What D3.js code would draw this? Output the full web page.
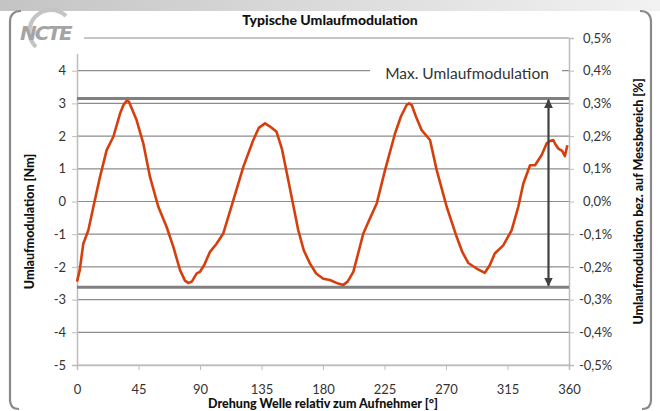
<!DOCTYPE html>
<html><head><meta charset="utf-8">
<script src="https://cdn.jsdelivr.net/npm/d3@7"></script>
<style>body{margin:0;background:#fff}svg{display:block}</style>
</head><body>
<svg id="c" width="660" height="411"></svg>
<script>
const angles = [0,2,4.6,8.3,12,16.8,21.7,26.6,31.5,34,36.3,38,40,43.6,48.5,53.4,59.5,65.6,70.5,75.4,79,81.4,84,87.6,90,93,97.3,102,107,114.4,121.7,129,133,137.6,141,146,150,154.6,161.9,166,170.5,175,180.2,185,191.2,194.9,198,202.2,209.5,214,219.3,225.4,232.7,237,241.2,243,244.9,248,252.2,258.3,263.2,270.5,277.8,282,286.3,292.4,298.4,302,305.7,311.9,318,322.9,326.6,331.5,335.1,340,343.7,346,348.5,350,352.2,355,357,358.8];
const torque = [-2.45,-2.1,-1.29,-0.88,-0.16,0.75,1.57,1.98,2.69,2.95,3.08,3.05,2.85,2.49,1.78,0.75,-0.16,-0.78,-1.39,-2.10,-2.42,-2.49,-2.45,-2.20,-2.15,-1.95,-1.54,-1.3,-0.98,0.04,1.06,1.88,2.25,2.39,2.3,2.13,1.6,0.65,-0.88,-1.5,-1.90,-2.2,-2.36,-2.4,-2.51,-2.55,-2.45,-2.15,-0.98,-0.55,-0.06,0.96,2.08,2.6,2.95,3.0,2.95,2.6,2.18,1.88,0.96,-0.16,-1.08,-1.55,-1.88,-2.05,-2.18,-1.95,-1.59,-1.34,-0.88,-0.16,0.55,1.11,1.11,1.42,1.78,1.85,1.88,1.75,1.62,1.55,1.39,1.72];
const xTicks = [0,45,90,135,180,225,270,315,360];
const yTicks = [-5,-4,-3,-2,-1,0,1,2,3,4];
const yTicksRight = [-0.5,-0.4,-0.3,-0.2,-0.1,0,0.1,0.2,0.3,0.4,0.5];
const maxLine = 3.15, minLine = -2.62, arrowAngle = 345;
const title = "Typische Umlaufmodulation";
const xTitle = "Drehung Welle relativ zum Aufnehmer [°]";
const yTitle = "Umlaufmodulation [Nm]";
const y2Title = "Umlaufmodulation bez. auf Messbereich [%]";
const annot = "Max. Umlaufmodulation";

const svg = d3.select("#c");
const F = "Lato, 'Open Sans', sans-serif";
const L = 77, R = 569, T = 38, B = 365;
const x = d3.scaleLinear().domain([0,360]).range([L,R]);
const y = d3.scaleLinear().domain([-5,5]).range([B,T]);
const y2 = d3.scaleLinear().domain([-0.5,0.5]).range([B,T]);

// top band gradient
const defs = svg.append("defs");
const g = defs.append("linearGradient").attr("id","band");
g.append("stop").attr("offset","0").attr("stop-color","#c4c4c4");
g.append("stop").attr("offset","1").attr("stop-color","#f2f2f2");
svg.append("rect").attr("x",0).attr("y",0).attr("width",660).attr("height",11).attr("fill","url(#band)");
svg.append("path").attr("d","M10,402 L10,22 Q10,11 21,11 M640,11 Q651,11 651,22 L651,400 Q651,409 642,409 M19,409 Q10,409 10,400")
  .attr("fill","none").attr("stroke","#8a8a8a").attr("stroke-width",2.2);

// gridlines
svg.append("g").selectAll("line").data(d3.range(-5,6)).join("line")
  .attr("x1",L).attr("x2",R).attr("y1",d=>y(d)).attr("y2",d=>y(d))
  .attr("stroke",d=>d===-5?"#b8b8b8":"#8c8c8c").attr("stroke-width",1.2);

// left axis
const ax = svg.append("g").attr("transform",`translate(${L},0)`).call(d3.axisLeft(y).tickValues(yTicks).tickSize(5).tickFormat(d3.format("d")));
ax.select(".domain").attr("stroke","#bdbdbd").attr("stroke-width",1.5);
ax.selectAll(".tick line").attr("stroke","#bdbdbd");
ax.selectAll("text").attr("font-family",F).attr("font-size",13).attr("fill","#333").attr("x",-11).text(d=>d<0?"-"+Math.abs(d):d);

// right axis
const ar = svg.append("g").attr("transform",`translate(${R},0)`).call(d3.axisRight(y2).tickValues(yTicksRight).tickSize(5).tickFormat(d=>d3.format(".1f")(Math.abs(d)<1e-9?0:d).replace(".",",").replace("−","-")+"%"));
ar.select(".domain").attr("stroke","#bdbdbd").attr("stroke-width",1.5);
ar.selectAll(".tick line").attr("stroke","#bdbdbd");
ar.selectAll("text").attr("font-family",F).attr("font-size",13).attr("fill","#333").attr("x",d=>d<0?10:14);

// bottom axis
const ab = svg.append("g").attr("transform",`translate(0,${B})`).call(d3.axisBottom(x).tickValues(xTicks).tickSize(5));
ab.select(".domain").attr("stroke","#bdbdbd").attr("stroke-width",1.5);
ab.selectAll(".tick line").attr("stroke","#bdbdbd");
ab.selectAll("text").attr("font-family",F).attr("font-size",13).attr("fill","#333").attr("dy","1.6em");

// max/min lines
svg.append("g").selectAll("line").data([maxLine,minLine]).join("line")
  .attr("x1",L).attr("x2",R).attr("y1",d=>y(d)).attr("y2",d=>y(d))
  .attr("stroke","#808080").attr("stroke-width",3);

// curve
svg.append("path").datum(angles.map((a,i)=>[a,torque[i]]))
  .attr("d",d3.line().x(d=>x(d[0])).y(d=>y(d[1])))
  .attr("fill","none").attr("stroke","#d63f0c").attr("stroke-width",2.6).attr("stroke-linejoin","round");

// arrow
defs.append("marker").attr("id","ah").attr("viewBox","0 0 10 10").attr("refX",9).attr("refY",5)
  .attr("markerWidth",4).attr("markerHeight",5).attr("orient","auto-start-reverse").attr("markerUnits","strokeWidth")
  .append("path").attr("d","M0,0 L10,5 L0,10 z").attr("fill","#404040");
svg.append("line").attr("x1",x(arrowAngle)).attr("x2",x(arrowAngle)).attr("y1",y(maxLine)+1.5).attr("y2",y(minLine)-1.5)
  .attr("stroke","#404040").attr("stroke-width",2.2).attr("marker-start","url(#ah)").attr("marker-end","url(#ah)");

// annotation
svg.append("rect").attr("x",370).attr("y",62).attr("width",192).attr("height",22).attr("fill","#fff");
svg.append("text").attr("x",467).attr("y",79).attr("text-anchor","middle").attr("font-family",F).attr("font-size",15.5).attr("fill","#333").text(annot);

// titles
svg.append("text").attr("x",330).attr("y",25).attr("text-anchor","middle").attr("font-family",F).attr("font-weight","900").attr("font-size",14).attr("fill","#111").text(title);
svg.append("text").attr("transform",`translate(34,${(T+B)/2+20}) rotate(-90)`).attr("text-anchor","middle").attr("font-family",F).attr("font-weight","900").attr("font-size",12.5).attr("fill","#111").text(yTitle);
svg.append("text").attr("transform",`translate(643,${(T+B)/2}) rotate(-90)`).attr("text-anchor","middle").attr("font-family",F).attr("font-weight","900").attr("font-size",12.5).attr("fill","#111").text(y2Title);
svg.append("text").attr("x",323).attr("y",408).attr("text-anchor","middle").attr("font-family",F).attr("font-weight","900").attr("font-size",12.5).attr("fill","#111").text(xTitle);

// logo
svg.append("rect").attr("x",14).attr("y",14).attr("width",70).attr("height",40).attr("fill","#fff");
svg.append("path").attr("d","M36,47 A21,21 0 1 1 66,16").attr("fill","none").attr("stroke","#c4c4c4").attr("stroke-width",4);
svg.append("text").attr("x",20).attr("y",40).attr("font-family","'DejaVu Sans', sans-serif").attr("font-weight","bold").attr("font-style","italic").attr("font-size",20).attr("fill","#a4a4a4").attr("letter-spacing",-2).text("NCTE");
</script>
</body></html>
